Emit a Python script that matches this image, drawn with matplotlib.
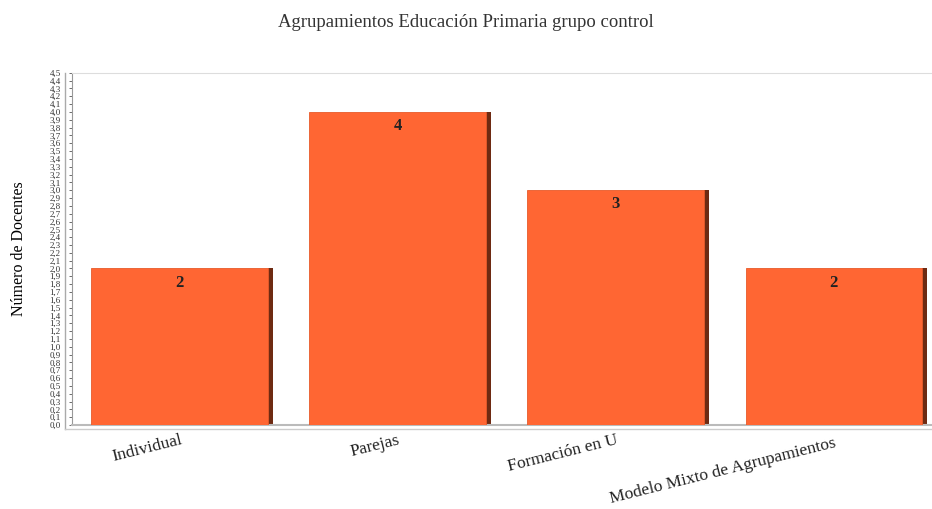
import matplotlib
matplotlib.use('Agg')
import matplotlib.pyplot as plt
import matplotlib.transforms as mtransforms
import numpy as np

# datos del gráfico
categorias = ['Individual', 'Parejas', 'Formación en U', 'Modelo Mixto de Agrupamientos']
docentes = [2, 4, 3, 2]
ticks_y = np.round(np.arange(0, 4.51, 0.1), 1)

plt.rcParams['font.family'] = ['Liberation Serif', 'DejaVu Serif']

fig = plt.figure(figsize=(9.32, 5.09), dpi=100)
ax = fig.add_axes([0.077, 0.165, 0.93, 0.692])

x = np.arange(len(categorias))
ancho = 0.81
prof = 0.024  # lado oscuro de la barra (efecto 3D)

ax.bar(x + ancho / 2 + prof / 2, docentes, width=prof, color='#6e2a12', zorder=2)
barras = ax.bar(x, docentes, width=ancho, color='#ff6633', edgecolor='#e85a2a',
                linewidth=0.6, zorder=3)

for xi, v in zip(x, docentes):
    ax.text(xi, v - 0.08, str(v), ha='center', va='top', fontsize=12,
            fontweight='bold', color='#222222', zorder=4)

ax.set_xlim(-0.495, 3.48)
ax.set_ylim(0, 4.5)

ax.set_yticks(ticks_y)
ax.set_yticklabels([f'{v:.1f}'.replace('.', ',') for v in ticks_y], fontsize=6.5)
ax.tick_params(axis='y', length=2, width=0.5, pad=6, colors='#333333')

ax.set_xticks(x)
ax.set_xticklabels(categorias, rotation=14, ha='right', rotation_mode='anchor',
                   fontsize=12.5, color='#222222')
ax.tick_params(axis='x', length=0, pad=5)
# la última etiqueta va un poco más abajo para no pisar a la anterior
ultima = ax.get_xticklabels()[-1]
ultima.set_transform(ultima.get_transform() +
                     mtransforms.ScaledTranslation(0, -3 / 100, fig.dpi_scale_trans))

ax.spines['right'].set_visible(False)
ax.spines['top'].set_color('#dddddd')
ax.spines['left'].set_color('#999999')
ax.spines['bottom'].set_color('#bbbbbb')
ax.spines['bottom'].set_linewidth(1.5)

# pared izquierda y suelo del marco 3D
fig.add_artist(plt.Line2D([0.070, 0.070], [0.157, 0.857], color='#aaaaaa', lw=1))
fig.add_artist(plt.Line2D([0.070, 1.0], [0.157, 0.157], color='#cccccc', lw=1))

ax.set_ylabel('Número de Docentes', fontsize=11.5, labelpad=4)
ax.yaxis.set_label_coords(-0.052, 0.5)

fig.text(0.5, 0.955, 'Agrupamientos Educación Primaria grupo control',
         ha='center', va='center', fontsize=13.5, color='#333333')

fig.savefig('out.png', dpi=100)
